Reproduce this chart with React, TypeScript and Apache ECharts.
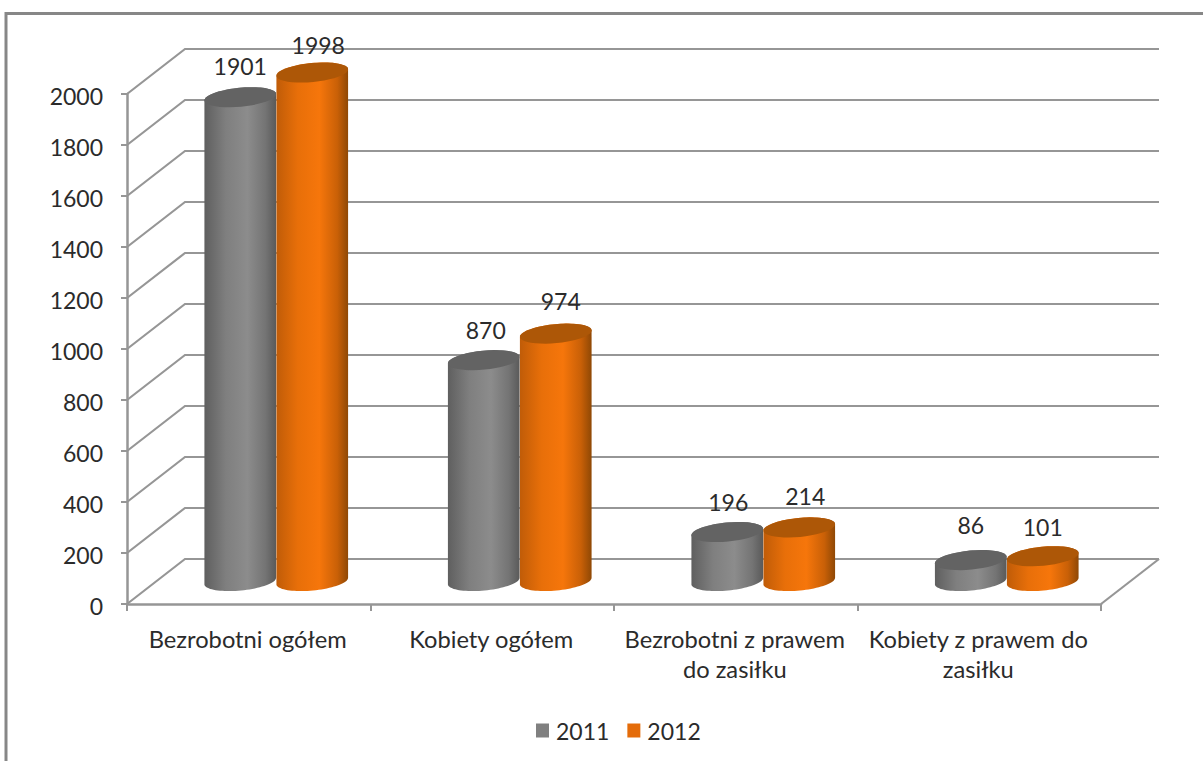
import React, { useEffect, useRef } from "react";
import * as echarts from "echarts";

const categories = [
  "Bezrobotni ogółem",
  "Kobiety ogółem",
  "Bezrobotni z prawem\ndo zasiłku",
  "Kobiety z prawem do\nzasiłku",
];
const values2011 = [1901, 870, 196, 86];
const values2012 = [1998, 974, 214, 101];
const yTicks = [0, 200, 400, 600, 800, 1000, 1200, 1400, 1600, 1800, 2000];

const FONT = "Lato";
const FONT_SIZE = 23;
const TEXT = "#2b2b2b";
const LINE = "#969696";
const DEPTH_X = 58;
const DEPTH_Y = 45;
const RX = 36;
const RY = 9.5;
const TILT = 5.5;
const MID_SHIFT = -1.5;
const TOP_SHIFT = 0.5;
const BOTTOM_SHIFT = -0.5;

const grayBody = ["#5f5f5f", "#7f7f7f", "#8c8c8c", "#747474", "#5a5a5a"];
const orangeBody = ["#c05c08", "#e86f09", "#f6760b", "#c96007", "#8f4805"];
const grayCap = "#636363";
const orangeCap = "#ad5707";

// points of a tilted ellipse, from angle a0 to a1 (0 = right end, 90 = screen-down side)
function ellipseArc(cx: number, cy: number, a0: number, a1: number) {
  const t = (TILT * Math.PI) / 180;
  const pts: number[][] = [];
  const steps = 40;
  for (let k = 0; k <= steps; k++) {
    const a = ((a0 + ((a1 - a0) * k) / steps) * Math.PI) / 180;
    const u = RX * Math.cos(a);
    const w = RY * Math.sin(a);
    pts.push([cx + u * Math.cos(t) + w * Math.sin(t), cy - u * Math.sin(t) + w * Math.cos(t)]);
  }
  return pts;
}

function cylinderItem(side: number, stops: string[], capColor: string, nudges: number[][]) {
  return (params: any, api: any) => {
    const i = api.value(0);
    const v = api.value(1);
    const base = api.coord([i, 0]);
    const top = api.coord([i, v]);
    const cx = base[0] + DEPTH_X / 2 + MID_SHIFT + side * RX;
    const yBot = base[1] - DEPTH_Y / 2 + BOTTOM_SHIFT;
    const yTop = top[1] - DEPTH_Y / 2 + TOP_SHIFT;
    const bodyPts = [
      ...ellipseArc(cx, yBot, 180, 0),
      ...ellipseArc(cx, yTop, 0, -180),
    ];
    const capPts = ellipseArc(cx, yTop, 0, 360);
    const n = nudges[params.dataIndex];
    return {
      type: "group",
      children: [
        {
          type: "polygon",
          shape: { points: bodyPts },
          style: {
            fill: new echarts.graphic.LinearGradient(0, 0, 1, 0, [
              { offset: 0, color: stops[0] },
              { offset: 0.3, color: stops[1] },
              { offset: 0.6, color: stops[2] },
              { offset: 0.85, color: stops[3] },
              { offset: 1, color: stops[4] },
            ]),
          },
        },
        { type: "polygon", shape: { points: capPts }, style: { fill: capColor } },
        {
          type: "text",
          style: {
            x: cx + n[0],
            y: yTop - 31 + n[1],
            text: String(v),
            align: "center",
            verticalAlign: "middle",
            font: `${FONT_SIZE}px ${FONT}`,
            fill: TEXT,
          },
        },
      ],
    };
  };
}

const nudges2011 = [[0, -0.5], [2, 0.5], [1, 0.5], [0, -4.5]];
const nudges2012 = [[6, 3.5], [5, -1.5], [6, -0.5], [0, 1.5]];

export default function App() {
  const ref = useRef<HTMLDivElement>(null);
  useEffect(() => {
    const chart = echarts.init(ref.current!, undefined, { renderer: "svg" });
    chart.setOption({
      animation: false,
      backgroundColor: "#ffffff",
      graphic: [
        {
          type: "polyline",
          shape: { points: [[6, 761], [6, 13.5], [1203, 13.5]] },
          style: { stroke: "#878787", lineWidth: 3, fill: "none" },
        },
      ],
      legend: {
        data: ["2011", "2012"],
        left: 531,
        top: 714,
        itemWidth: 13,
        itemHeight: 14,
        itemGap: 18,
        icon: "rect",
        textStyle: { fontFamily: FONT, fontSize: FONT_SIZE, color: TEXT, padding: [0, 0, 0, 2] },
      },
      grid: { left: 127, right: 102, top: 94, bottom: 157 },
      xAxis: {
        type: "category",
        data: categories,
        axisLine: { lineStyle: { color: LINE, width: 2.5 } },
        axisTick: { show: true, length: 7, alignWithLabel: false, lineStyle: { color: LINE, width: 2 } },
        axisLabel: {
          fontFamily: FONT,
          fontSize: 23.7,
          color: TEXT,
          margin: 20,
          lineHeight: 30,
          interval: 0,
          padding: [0, 2, 0, 0],
        },
        splitLine: { show: false },
      },
      yAxis: {
        type: "value",
        min: 0,
        max: 2000,
        interval: 200,
        axisLine: { show: true, lineStyle: { color: LINE, width: 2.5 } },
        axisTick: { show: true, length: 6, lineStyle: { color: LINE, width: 2 } },
        axisLabel: {
          margin: 24,
          formatter: (v: number) => `{a|${v}}`,
          rich: {
            a: {
              fontFamily: FONT,
              fontSize: FONT_SIZE,
              color: TEXT,
              padding: [4, 0, 0, 0],
            },
          },
        },
        splitLine: { show: false },
      },
      series: [
        {
          type: "custom",
          name: "walls",
          z: 1,
          silent: true,
          encode: { x: 0, y: 1 },
          data: yTicks.map((t) => [0, t]),
          renderItem: (params: any, api: any) => {
            const v = api.value(1);
            const y = api.coord([0, v])[1];
            const x0 = params.coordSys.x;
            const x1 = x0 + params.coordSys.width;
            const children: any[] = [
              {
                type: "polyline",
                shape: { points: [[x0, y], [x0 + DEPTH_X, y - DEPTH_Y], [x1 + DEPTH_X, y - DEPTH_Y]] },
                style: { stroke: LINE, lineWidth: 2.2, fill: "none" },
              },
            ];
            if (v === 0) {
              children.push({
                type: "line",
                shape: { x1: x1, y1: y, x2: x1 + DEPTH_X, y2: y - DEPTH_Y },
                style: { stroke: LINE, lineWidth: 2.2 },
              });
            }
            return { type: "group", children };
          },
        },
        {
          type: "custom",
          name: "2011",
          z: 3,
          itemStyle: { color: "#808080" },
          encode: { x: 0, y: 1 },
          data: values2011.map((v, i) => [i, v]),
          renderItem: cylinderItem(-1, grayBody, grayCap, nudges2011),
        },
        {
          type: "custom",
          name: "2012",
          z: 4,
          itemStyle: { color: "#e46c0a" },
          encode: { x: 0, y: 1 },
          data: values2012.map((v, i) => [i, v]),
          renderItem: cylinderItem(1, orangeBody, orangeCap, nudges2012),
        },
      ],
    });
    return () => chart.dispose();
  }, []);
  return (
    <div
      ref={ref}
      style={{ position: "absolute", left: 0, top: 0, width: 1203, height: 761 }}
    />
  );
}
